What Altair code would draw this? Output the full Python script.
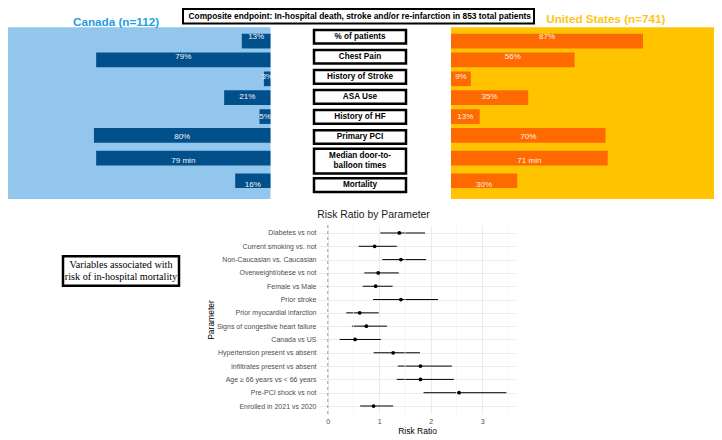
import altair as alt
import pandas as pd

# ---------------- data ----------------
params = ["% of patients", "Chest Pain", "History of Stroke", "ASA Use",
          "History of HF", "Primary PCI", "Median door-to-\nballoon times", "Mortality"]
canada_vals = [13, 79, 3, 21, 5, 80, 79, 16]
us_vals = [87, 56, 9, 35, 13, 70, 71, 30]
value_units = ["%", "%", "%", "%", "%", "%", " min", "%"]

rr_params = ["Diabetes vs not", "Current smoking vs. not", "Non-Caucasian vs. Caucasian ",
             "Overweight/obese vs not", "Female vs Male", "Prior stroke",
             "Prior myocardial infarction", "Signs of congestive heart failure",
             "Canada vs US", "Hypertension present vs absent", "Infiltrates present vs absent",
             "Age \u2265 66 years vs < 66 years", "Pre-PCI shock vs not", "Enrolled in 2021 vs 2020"]
rr = [1.39, 0.91, 1.42, 0.98, 0.93, 1.42, 0.62, 0.75, 0.53, 1.27, 1.80, 1.80, 2.55, 0.89]
rr_lo = [1.02, 0.60, 1.06, 0.71, 0.68, 0.88, 0.36, 0.47, 0.23, 0.89, 1.36, 1.34, 1.86, 0.63]
rr_hi = [1.89, 1.34, 1.91, 1.38, 1.26, 2.14, 0.99, 1.15, 1.03, 1.79, 2.41, 2.45, 3.47, 1.27]
major_ticks = [0, 1, 2, 3]
minor_ticks = [0.5, 1.5, 2.5, 3.5]

title_main = "Composite endpoint: In-hospital death, stroke and/or re-infarction in 853 total patients"
title_ca = "Canada (n=112)"
title_us = "United States (n=741)"
title_rr = "Risk Ratio by Parameter"
note_text = "Variables associated with\nrisk of in-hospital mortality"

# ---------------- style / layout ----------------
SANS = "Liberation Sans"
SERIF = "Liberation Serif"
LIGHT_BLUE = "#93C6EC"
DARK_BLUE = "#02508B"
CA_TITLE = "#1F9DE4"
YELLOW = "#FFC300"
ORANGE = "#FF6A00"
US_TITLE = "#FFC416"

OX, OY = 319, 225          # page position of forest panel origin


def px(x):
    return x - OX


def py(y):
    return y - OY


ROW = 20.06
TOP0 = 26.67
ys_top = alt.Scale(domain=[0, 8.4], range=[py(TOP0), py(TOP0 + 8.4 * ROW)], nice=False, zero=False)
PXU = 2.207
xs_ca = alt.Scale(domain=[0, 100], range=[px(270.5), px(270.5 - 100 * PXU)], nice=False)
xs_us = alt.Scale(domain=[0, 100], range=[px(451), px(451 + 100 * PXU)], nice=False)

top_df = pd.DataFrame({"param": params, "canada": canada_vals, "us": us_vals,
                       "unit": value_units, "order": list(range(len(params)))})


def top_base():
    return (alt.Chart(top_df)
            .transform_calculate(lines="indexof(datum.param, '\\n') >= 0 ? 2 : 1")
            .transform_calculate(rowu="datum.lines == 2 ? 1.4 : 1")
            .transform_window(cum="sum(rowu)", sort=[alt.SortField("order")])
            .transform_calculate(yc="datum.cum - datum.rowu / 2",
                                 bh="datum.lines == 2 ? 0.62 : 0.34",
                                 ca_mid="datum.canada / 2", us_mid="datum.us / 2",
                                 ca_lbl="datum.canada + datum.unit",
                                 us_lbl="datum.us + datum.unit")
            .transform_calculate(b0="datum.yc - datum.bh", b1="datum.yc + datum.bh",
                                 ty="datum.yc - (datum.lines - 1) * 0.25"))


one = pd.DataFrame({"k": [0]})

bg_ca = alt.Chart(one).mark_rect(color=LIGHT_BLUE).encode(
    x=alt.value(px(8)), x2=alt.value(px(270.5)), y=alt.value(py(27.3)), y2=alt.value(py(199)))
bg_us = alt.Chart(one).mark_rect(color=YELLOW).encode(
    x=alt.value(px(451)), x2=alt.value(px(714)), y=alt.value(py(27.3)), y2=alt.value(py(199)))

main_box = alt.Chart(one).mark_rect(fill="white", stroke="black", strokeWidth=2).encode(
    x=alt.value(px(183)), x2=alt.value(px(534)), y=alt.value(-216), y2=alt.value(-201.5))
main_txt = alt.Chart(pd.DataFrame({"t": [title_main]})).mark_text(
    font=SANS, fontWeight="bold", fontSize=8.4, color="black", align="center", baseline="middle"
).encode(text="t:N", x=alt.value(px(359.7)), y=alt.value(-208.6))

ca_title = alt.Chart(pd.DataFrame({"t": [title_ca]})).mark_text(
    font=SANS, fontWeight="bold", fontSize=11.7, color=CA_TITLE, align="center", baseline="middle"
).encode(text="t:N", x=alt.value(px(116)), y=alt.value(py(22)))
us_title = alt.Chart(pd.DataFrame({"t": [title_us]})).mark_text(
    font=SANS, fontWeight="bold", fontSize=11.7, color=US_TITLE, align="center", baseline="middle"
).encode(text="t:N", x=alt.value(px(605.8)), y=alt.value(py(18.5)))

ca_bars = top_base().mark_bar(orient="horizontal", size=14.7, color=DARK_BLUE).encode(
    x=alt.X("canada:Q", scale=xs_ca, axis=None),
    y=alt.Y("yc:Q", scale=ys_top, axis=None))
ca_text = top_base().mark_text(font=SANS, fontSize=8, color="#f4f4f4", align="center",
                               baseline="middle").encode(
    x=alt.X("ca_mid:Q", scale=xs_ca, axis=None),
    y=alt.Y("yc:Q", scale=ys_top, axis=None), text="ca_lbl:N")

us_bars = top_base().mark_bar(orient="horizontal", size=14.7, color=ORANGE).encode(
    x=alt.X("us:Q", scale=xs_us, axis=None),
    y=alt.Y("yc:Q", scale=ys_top, axis=None))
us_text = top_base().mark_text(font=SANS, fontSize=8, color="#fff1e6", align="center",
                               baseline="middle").encode(
    x=alt.X("us_mid:Q", scale=xs_us, axis=None),
    y=alt.Y("yc:Q", scale=ys_top, axis=None), text="us_lbl:N")

lab_box = top_base().mark_rect(fill="white", stroke="black", strokeWidth=2.5).encode(
    x=alt.value(px(314)), x2=alt.value(px(406)),
    y=alt.Y("b0:Q", scale=ys_top, axis=None), y2="b1:Q")
lab_txt = top_base().mark_text(font=SANS, fontWeight="bold", fontSize=8.2, color="black",
                               lineBreak="\n", lineHeight=10, align="center",
                               baseline="middle").encode(
    x=alt.value(px(360)), y=alt.Y("ty:Q", scale=ys_top, axis=None), text="param:N")

note_box = alt.Chart(one).mark_rect(fill="white", stroke="black", strokeWidth=2.5).encode(
    x=alt.value(px(63)), x2=alt.value(px(179)), y=alt.value(py(256.2)), y2=alt.value(py(285.8)))
note_txt = alt.Chart(pd.DataFrame({"t": [note_text]})).mark_text(
    font=SERIF, fontSize=10.2, color="black", lineBreak="\n", lineHeight=12.5,
    align="center", baseline="middle"
).encode(text="t:N", x=alt.value(px(121)), y=alt.value(py(271) - 6.25))

rr_title_txt = alt.Chart(pd.DataFrame({"t": [title_rr]})).mark_text(
    font=SANS, fontSize=10.4, color="#1a1a1a", align="center", baseline="middle"
).encode(text="t:N", x=alt.value(px(373.5)), y=alt.value(py(215)))

# ---------------- forest plot ----------------
fr_df = pd.DataFrame({"param": rr_params, "rr": rr, "lo": rr_lo, "hi": rr_hi})


def xs_fr():
    return alt.Scale(domain=[-0.17, 3.636], nice=False, zero=False)


def ys_fr():
    return alt.Scale(type="point", padding=0.6, domain=rr_params)


x_axis = alt.Axis(orient="bottom", values=major_ticks, format="d", title="Risk Ratio",
                  grid=True, gridColor="#ebebeb", gridWidth=1, ticks=False, domain=False,
                  labelFont=SANS, labelFontSize=7, labelColor="#4d4d4d", labelPadding=3,
                  titleFont=SANS, titleFontSize=8.5, titleFontWeight="normal",
                  titleColor="black", titlePadding=2.5)
y_axis = alt.Axis(orient="left", title="Parameter", grid=True, gridColor="#ebebeb",
                  gridWidth=1, ticks=False, domain=False,
                  labelFont=SANS, labelFontSize=7, labelColor="#4d4d4d", labelPadding=3,
                  titleFont=SANS, titleFontSize=8.5, titleFontWeight="normal",
                  titleColor="black", titlePadding=1)

minor_grid = alt.Chart(pd.DataFrame({"v": minor_ticks})).mark_rule(
    color="#f0f0f0", strokeWidth=0.7).encode(x=alt.X("v:Q", scale=xs_fr(), axis=None))
zero_line = alt.Chart(pd.DataFrame({"v": [0]})).mark_rule(
    color="#8a8a8a", strokeDash=[3, 3], strokeWidth=0.8).encode(
    x=alt.X("v:Q", scale=xs_fr(), axis=None))
err = alt.Chart(fr_df).mark_rule(color="black", strokeWidth=1).encode(
    x=alt.X("lo:Q", scale=xs_fr(), axis=x_axis), x2="hi:Q",
    y=alt.Y("param:N", scale=ys_fr(), axis=y_axis))
pts = alt.Chart(fr_df).mark_circle(color="black", size=14, opacity=1).encode(
    x=alt.X("rr:Q", scale=xs_fr(), axis=None),
    y=alt.Y("param:N", scale=ys_fr(), axis=None))

chart = alt.layer(
    err, minor_grid, zero_line, pts,
    bg_ca, bg_us, main_box, main_txt, ca_title, us_title,
    ca_bars, ca_text, us_bars, us_text, lab_box, lab_txt,
    note_box, note_txt, rr_title_txt
).resolve_scale(x="independent", y="independent").properties(
    width=196, height=189, padding=0
).configure_view(strokeWidth=0)

chart.save("out.html", embed_options={"renderer": "svg", "actions": False})
